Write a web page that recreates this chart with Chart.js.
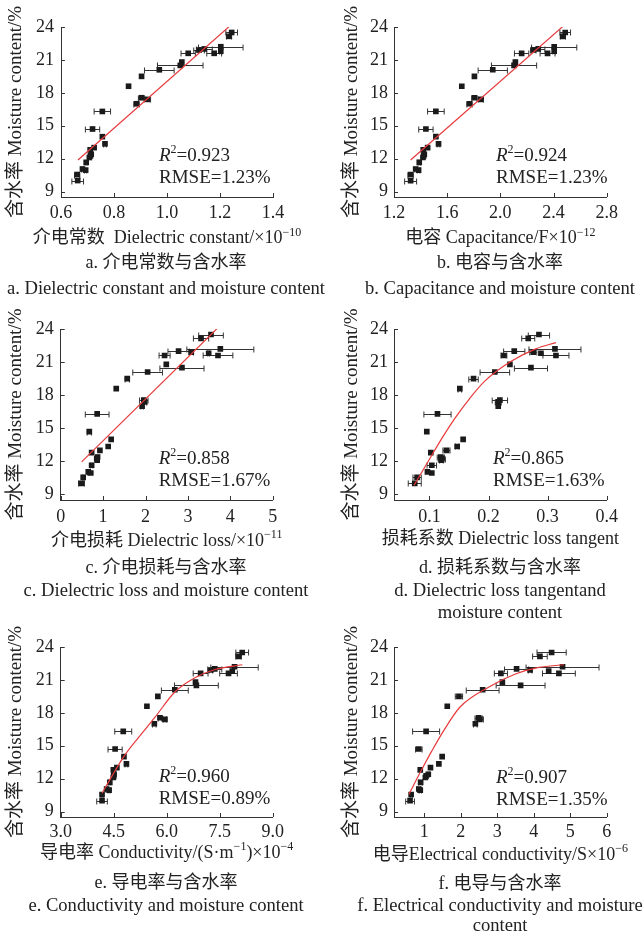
<!DOCTYPE html>
<html>
<head>
<meta charset="utf-8">
<script src="https://cdn.jsdelivr.net/npm/chart.js@4.4.0/dist/chart.umd.min.js"></script>
<style>
body{margin:0;background:#fff;width:643px;height:935px;position:relative;overflow:hidden;font-family:"Liberation Serif","Noto Sans CJK SC",serif;color:#222}
.box{position:absolute}
.cap{position:absolute;font-size:18.6px;line-height:22px;white-space:nowrap;transform:translate(-50%,-50%)}
.cap.zh{font-size:18px}
</style>
</head>
<body>
<div id="wrap"></div>
<script>
// moisture content of the 30 samples (same for every panel)
const moisture=[23.5,23.15,22.2,22.0,21.9,21.8,21.6,21.6,20.8,20.5,20.1,19.5,18.6,17.55,17.4,17.0,16.3,14.7,14.0,13.35,13.0,12.8,12.4,12.25,12.1,11.65,11.05,10.95,10.55,10.0];
const yTicks=[9,12,15,18,21,24];

// a. dielectric constant
const constX=[1.244,1.234,1.203,1.141,1.121,1.203,1.178,1.080,1.056,1.050,0.971,0.904,0.855,0.904,0.926,0.885,0.756,0.719,0.756,0.766,0.725,0.710,0.714,0.711,0.707,0.695,0.681,0.693,0.661,0.663];
const constErr=[0.022,0.01,0.084,0.03,0.02,0.005,0.028,0.027,0.004,0.086,0.056,0,0,0.012,0.012,0.01,0.031,0.027,0,0.005,0,0,0.004,0,0,0.004,0.004,0.004,0.01,0.022];
const constFitX=[0.664,1.244];
const constFitY=[11.87,24.24];
const constTicks=[0.6,0.8,1.0,1.2,1.4];

// b. capacitance
const capX=[2.488,2.470,2.405,2.285,2.248,2.405,2.355,2.160,2.113,2.103,1.943,1.805,1.710,1.805,1.853,1.768,1.515,1.440,1.515,1.535,1.453,1.420,1.428,1.423,1.418,1.390,1.363,1.385,1.325,1.325];
const capErr=[0.04,0.02,0.17,0.05,0.02,0.01,0.056,0.054,0.005,0.17,0.11,0,0,0.02,0.02,0.02,0.0625,0.054,0,0.01,0,0,0.005,0,0,0.01,0.01,0.01,0.02,0.045];
const capFitX=[1.325,2.488];
const capFitY=[11.87,24.24];
const capTicks=[1.2,1.6,2.0,2.4,2.8];

// c. dielectric loss
const lossX=[3.545,3.31,3.765,2.78,3.08,3.49,2.45,3.71,2.49,2.86,2.05,1.57,1.31,1.96,1.98,1.92,0.86,0.675,1.19,1.12,0.925,0.73,0.87,0.85,0.86,0.73,0.65,0.71,0.53,0.49];
const lossErr=[0.29,0.18,0.79,0.25,0.05,0.02,0.13,0.35,0,0.52,0.35,0.05,0,0.1,0.05,0.03,0.28,0.05,0,0,0,0,0.03,0.03,0,0.03,0.02,0,0.02,0.07];
const lossFitX=[0.494,3.749];
const lossFitY=[11.95,24.27];
const lossTicks=[0,1,2,3,4,5];

// d. dielectric loss tangent
const tanX=[0.2853,0.2672,0.3124,0.2435,0.2757,0.2887,0.226,0.3141,0.2362,0.2718,0.2107,0.1746,0.1514,0.2192,0.2164,0.2164,0.1136,0.0955,0.157,0.1469,0.1288,0.1023,0.1192,0.121,0.1203,0.104,0.0966,0.104,0.0791,0.0751];
const tanErr=[0.018,0.011,0.044,0.018,0.006,0,0.005,0.022,0,0.028,0.025,0.008,0.003,0.013,0.005,0,0.023,0,0,0.003,0.006,0,0.006,0.006,0.003,0.008,0,0,0.007,0.011];
const tanFitX=[0.074,0.1,0.12,0.143,0.168,0.194,0.239,0.28,0.314];
const tanFitY=[9.84,12.2,14.0,15.9,17.7,19.3,21.1,22.2,22.77];
const tanTicks=[0.1,0.2,0.3,0.4];

// e. conductivity
const condX=[8.137,8.034,7.92,7.36,7.25,7.856,7.75,6.96,6.815,6.84,6.23,5.75,5.44,5.81,5.95,5.65,4.77,4.54,4.79,4.86,4.59,4.49,4.51,4.50,4.49,4.39,4.30,4.37,4.17,4.17];
const condErr=[0.18,0.08,0.67,0.2,0.05,0,0.25,0.21,0,0.62,0.38,0,0,0.05,0.05,0.05,0.24,0.2,0,0.04,0,0,0.03,0,0,0.03,0.03,0.03,0.03,0.15];
const condFitX=[4.17,4.45,4.79,5.20,5.67,6.23,6.8,7.37,8.14];
const condFitY=[10.67,12.23,14.03,15.74,17.6,19.9,21.2,21.95,22.38];
const condTicks=[3.0,4.5,6.0,7.5,9.0];

// f. electrical conductivity
const ecX=[4.49,4.17,4.79,3.53,3.90,4.41,4.69,3.10,3.14,3.64,2.60,1.95,1.63,2.49,2.52,2.40,1.05,0.85,1.49,1.40,1.17,0.89,1.11,1.05,1.03,0.90,0.85,0.89,0.64,0.61];
const ecErr=[0.4,0.2,1.0,0.33,0.05,0,0.45,0.18,0,0.67,0.45,0.1,0,0.1,0.1,0.05,0.37,0.09,0,0,0,0,0.03,0,0,0.05,0.04,0.03,0.03,0.12];
const ecFitX=[0.58,0.93,1.2,1.52,1.98,2.76,3.5,4.14,4.83];
const ecFitY=[10.58,12.83,14.48,16.31,18.53,20.34,21.54,22.14,22.38];
const ecTicks=[1,2,3,4,5,6];

const serif='"Liberation Serif","Noto Sans CJK SC",serif';
Chart.defaults.font.family=serif;
Chart.defaults.color='#222';

// x-axis titles, [text, superscript?]
const panels=[
{left:0,width:330,area:[61,273,26.7,196.7],xr:[0.6,1.4],ticks:constTicks,dec:1,title:[['介电常数  Dielectric constant/×10',0],['−10',1]],xs:constX,err:constErr,fx:constFitX,fy:constFitY,curve:false,r2:'0.923',rmse:'1.23%',tg:16.3,ttg:41.6,ytx:16,ytp:7,stat:[98,134]},
{left:320,width:323,area:[394,606.7,26.7,196.7],xr:[1.2,2.8],ticks:capTicks,dec:1,title:[['电容 Capacitance/F×10',0],['−12',1]],xs:capX,err:capErr,fx:capFitX,fy:capFitY,curve:false,r2:'0.924',rmse:'1.23%',tg:16.6,ttg:41.6,ytx:32.5,ytp:6,stat:[102,134]},
{left:0,width:330,area:[60.7,272.7,329.3,500.7],xr:[0,5],ticks:lossTicks,dec:0,title:[['介电损耗 Dielectric loss/×10',0],['−11',1]],xs:lossX,err:lossErr,fx:lossFitX,fy:lossFitY,curve:false,r2:'0.858',rmse:'1.67%',tg:17.3,ttg:41.3,ytx:16.5,ytp:7,stat:[98,135]},
{left:320,width:323,area:[394,606.7,329.3,500.7],xr:[0.04,0.4],ticks:tanTicks,dec:1,title:[['损耗系数 Dielectric loss tangent',0]],xs:tanX,err:tanErr,fx:tanFitX,fy:tanFitY,curve:true,r2:'0.865',rmse:'1.63%',tg:17.3,ttg:39.3,ytx:32.5,ytp:6,stat:[99,135]},
{left:0,width:330,area:[60.7,272.7,646.7,816.7],xr:[3,9],ticks:condTicks,dec:1,title:[['导电率 Conductivity/(S·m',0],['−1',1],[')×10',0],['−4',1]],xs:condX,err:condErr,fx:condFitX,fy:condFitY,curve:true,r2:'0.960',rmse:'0.89%',tg:15,ttg:36.3,ytx:16.5,ytp:7,stat:[98,135]},
{left:320,width:323,area:[394,606.7,646.7,816.7],xr:[0.17,6],ticks:ecTicks,dec:0,title:[['电导Electrical conductivity/S×10',0],['−6',1]],xs:ecX,err:ecErr,fx:ecFitX,fy:ecFitY,curve:true,r2:'0.907',rmse:'1.35%',tg:15,ttg:38.3,ytx:32.5,ytp:6,stat:[102,136]}
];

const captions=[
['a. 介电常数与含水率',166,262,1],['a. Dielectric constant and moisture content',166,288,0],
['b. 电容与含水率',500,262,1],['b. Capacitance and moisture content',500,288,0],
['c. 介电损耗与含水率',166,567,1],['c. Dielectric loss and moisture content',166,590,0],
['d. 损耗系数与含水率',500,567,1],['d. Dielectric loss tangentand',500,590,0],['moisture content',500,612,0],
['e. 导电率与含水率',166,882,1],['e. Conductivity and moisture content',166,905,0],
['f. 电导与含水率',500,883,1],['f. Electrical conductivity and moisture',500,905,0],['content',500,925,0]
];

const innerTicks={id:'innerTicks',afterDraw(c){
const ctx=c.ctx,{left,bottom}=c.chartArea,x=c.scales.x,y=c.scales.y;
ctx.save();ctx.strokeStyle='#333';ctx.lineWidth=1;ctx.beginPath();
x.ticks.forEach(t=>{const p=Math.round(x.getPixelForValue(t.value))+0.5;ctx.moveTo(p,bottom);ctx.lineTo(p,bottom-4);});
y.ticks.forEach(t=>{const p=Math.round(y.getPixelForValue(t.value))+0.5;ctx.moveTo(left,p);ctx.lineTo(left+4,p);});
ctx.stroke();ctx.restore();
}};

const errorBars={id:'errorBars',beforeDatasetsDraw(c){
const ctx=c.ctx,x=c.scales.x,y=c.scales.y;
ctx.save();ctx.strokeStyle='#333';ctx.lineWidth=1;
c.data.datasets.forEach(ds=>{
if(!ds.xErr) return;
ds.data.forEach((p,i)=>{
const e=ds.xErr[i];
if(!e) return;
const x0=x.getPixelForValue(p.x-e),x1=x.getPixelForValue(p.x+e),py=Math.round(y.getPixelForValue(p.y))+0.5;
ctx.beginPath();
ctx.moveTo(x0,py);ctx.lineTo(x1,py);
ctx.moveTo(x0,py-3);ctx.lineTo(x0,py+3);
ctx.moveTo(x1,py-3);ctx.lineTo(x1,py+3);
ctx.stroke();
});
});
ctx.restore();
}};

const statText={id:'statText',afterDatasetsDraw(c,args,o){
const ctx=c.ctx,x0=c.chartArea.left+o.dx,y0=c.chartArea.top+o.dy;
ctx.save();ctx.fillStyle='#222';ctx.textBaseline='alphabetic';
ctx.font='italic 19px '+serif;ctx.fillText('R',x0,y0);
let w=ctx.measureText('R').width;
ctx.font='12px '+serif;ctx.fillText('2',x0+w,y0-8);
w+=ctx.measureText('2').width;
ctx.font='19px '+serif;ctx.fillText('='+o.r2,x0+w,y0);
ctx.fillText('RMSE='+o.rmse,x0,y0+22);
ctx.restore();
}};

// x title drawn by hand so it is not squeezed to the plot width
const xTitle={id:'xTitle',afterDraw(c,args,o){
const ctx=c.ctx,ca=c.chartArea,big='18px '+serif,small='12px '+serif;
ctx.save();ctx.fillStyle='#222';ctx.textBaseline='middle';ctx.textAlign='left';
let total=0;
o.parts.forEach(([t,s])=>{ctx.font=s?small:big;total+=ctx.measureText(t).width;});
let x=(ca.left+ca.right)/2-total/2;
const y=ca.bottom+o.gap;
o.parts.forEach(([t,s])=>{ctx.font=s?small:big;ctx.fillText(t,x,s?y-6:y);x+=ctx.measureText(t).width;});
ctx.restore();
}};

const wrap=document.getElementById('wrap');

panels.forEach(p=>{
const [al,ar,at,ab]=p.area;
const top=at-27,h=ab-at+27+60;
const box=document.createElement('div');
box.className='box';
box.style.left=p.left+'px';box.style.top=top+'px';
const cv=document.createElement('canvas');
cv.width=p.width;cv.height=Math.round(h);
cv.style.width=p.width+'px';cv.style.height=Math.round(h)+'px';
box.appendChild(cv);wrap.appendChild(box);

new Chart(cv,{
type:'scatter',
data:{datasets:[
{type:'line',data:p.fx.map((v,i)=>({x:v,y:p.fy[i]})),borderColor:'#e8393b',borderWidth:1.2,pointRadius:0,fill:false,cubicInterpolationMode:p.curve?'monotone':'default',tension:0},
{data:p.xs.map((v,i)=>({x:v,y:moisture[i]})),xErr:p.err,pointStyle:'rect',pointRadius:4,backgroundColor:'#1a1a1a',borderWidth:0}
]},
options:{
responsive:false,animation:false,
layout:{padding:{top:27,left:0,bottom:0,right:p.width-(ar-p.left)}},
plugins:{legend:{display:false},tooltip:{enabled:false},
statText:{dx:p.stat[0],dy:p.stat[1],r2:p.r2,rmse:p.rmse},
xTitle:{parts:p.title,gap:p.ttg}},
scales:{
x:{type:'linear',min:p.xr[0],max:p.xr[1],
grid:{display:false,drawTicks:false,tickLength:0},border:{display:true,color:'#333',width:1},
afterBuildTicks:s=>{s.ticks=p.ticks.map(v=>({value:v}));},
afterFit:s=>{s.height=60;s.paddingLeft=0;s.paddingRight=0;},
ticks:{autoSkip:false,maxRotation:0,padding:p.tg-10.8,font:{size:18},color:'#222',callback:v=>v.toFixed(p.dec)},
title:{display:false}},
y:{type:'linear',min:8.5,max:24,
grid:{display:false,drawTicks:false,tickLength:0},border:{display:true,color:'#333',width:1},
afterBuildTicks:s=>{s.ticks=yTicks.map(v=>({value:v}));},
afterFit:s=>{s.width=al-p.left;s.paddingTop=0;s.paddingBottom=0;},
ticks:{autoSkip:false,padding:p.ytp,font:{size:18},color:'#222',callback:v=>String(v)},
title:{display:true,text:'含水率 Moisture content/%',font:{size:19},color:'#222',padding:{top:p.ytx-11.4,bottom:0}}}
}
},
plugins:[errorBars,innerTicks,statText,xTitle]
});
});

captions.forEach(([t,x,y,zh])=>{
const d=document.createElement('div');
d.className=zh?'cap zh':'cap';d.textContent=t;
d.style.left=x+'px';d.style.top=y+'px';
wrap.appendChild(d);
});
</script>
</body>
</html>
